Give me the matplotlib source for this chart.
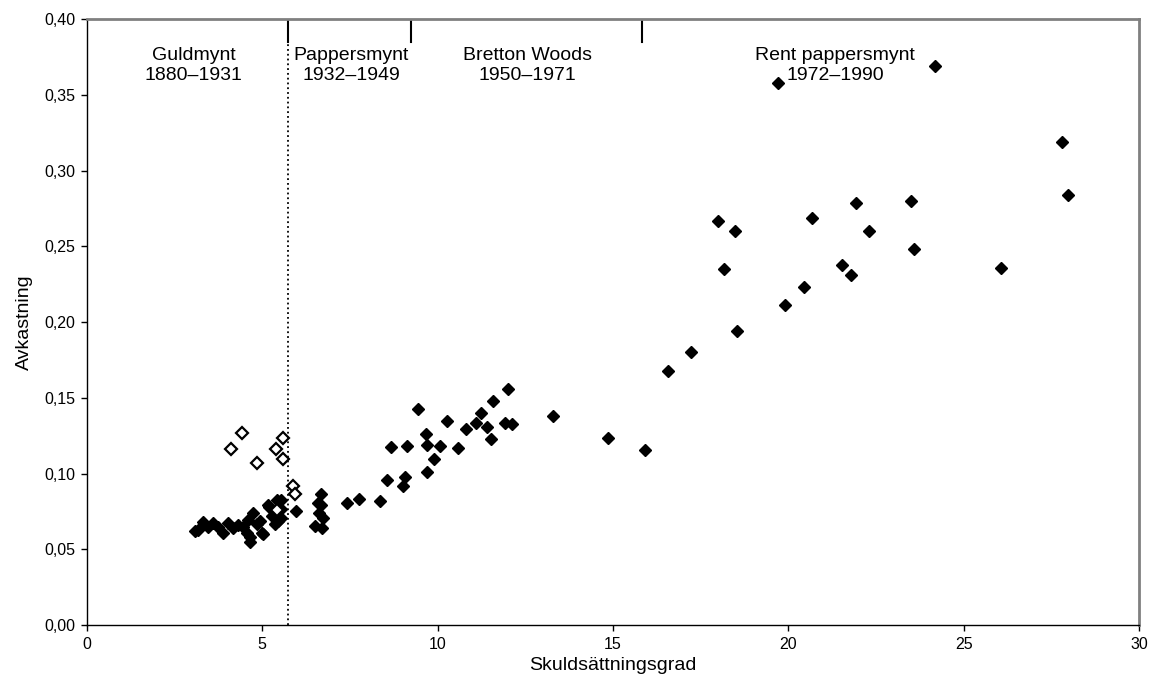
import matplotlib
matplotlib.use("Agg")
import matplotlib.pyplot as plt
from matplotlib.ticker import FuncFormatter, MultipleLocator

plt.rcParams['font.family'] = ['Liberation Sans', 'DejaVu Sans']

# filled diamonds: 1880-1990 observations
x_fill = [3.08, 3.17, 3.32, 3.46, 3.60, 3.75, 3.89, 4.03, 4.17, 4.31, 4.46, 4.55,
          4.60, 4.65, 4.65, 4.74, 4.84, 4.93, 5.00, 5.03, 5.17, 5.20, 5.27, 5.36,
          5.41, 5.45, 5.53, 5.53, 5.53,
          5.96, 6.50, 6.58, 6.63, 6.66, 6.67, 6.69, 6.74,
          7.42, 7.77, 8.37, 8.56, 9.02, 9.07, 8.68, 9.12, 9.43, 9.70, 9.89, 9.67,
          9.69, 10.07, 10.26, 10.58, 10.81, 11.09, 11.23, 11.41, 11.53, 11.59,
          11.91, 12.12, 12.01, 13.30,
          14.86, 15.92, 16.56, 17.23, 18.53, 19.92, 20.45, 26.08, 21.80, 21.53,
          18.16, 23.58, 22.31, 23.50, 21.94, 20.68, 18.47, 17.99, 27.97, 27.80,
          19.70, 24.18]
y_fill = [0.0623, 0.0630, 0.0682, 0.0649, 0.0675, 0.0650, 0.0605, 0.0671, 0.0640, 0.0660, 0.0650, 0.0610,
          0.0693, 0.0550, 0.0580, 0.0737, 0.0670, 0.0690, 0.0610, 0.0600, 0.0790, 0.0780, 0.0720, 0.0670,
          0.0825, 0.0690, 0.0825, 0.0766, 0.0706,
          0.0755, 0.0653, 0.0803, 0.0737, 0.0790, 0.0865, 0.0638, 0.0704,
          0.0805, 0.0830, 0.0818, 0.0957, 0.0920, 0.0975, 0.1173, 0.1181, 0.1426, 0.1010, 0.1096, 0.1260,
          0.1188, 0.1181, 0.1349, 0.1168, 0.1296, 0.1331, 0.1397, 0.1309, 0.1228, 0.1479,
          0.1331, 0.1325, 0.1558, 0.1382,
          0.1232, 0.1155, 0.1680, 0.1800, 0.1940, 0.2110, 0.2230, 0.2360, 0.2310, 0.2380,
          0.2350, 0.2480, 0.2600, 0.2800, 0.2790, 0.2690, 0.2600, 0.2670, 0.2840, 0.3190,
          0.3580, 0.3690]

# open diamonds
x_open = [4.11, 4.42, 4.84, 5.38, 5.60, 5.60, 5.88, 5.93, 5.42]
y_open = [0.1160, 0.1265, 0.1071, 0.1160, 0.1232, 0.1094, 0.0920, 0.0865, 0.0760]

# period boundaries and labels
bounds = [5.74, 9.24, 15.83]
period_x = [3.05, 7.53, 12.55, 21.33]
period_labels = ["Guldmynt\n1880\u20131931", "Pappersmynt\n1932\u20131949",
                 "Bretton Woods\n1950\u20131971", "Rent pappersmynt\n1972\u20131990"]

fig = plt.figure(figsize=(11.55, 6.93), dpi=100)
ax = fig.add_axes([0.0753, 0.0981, 0.9108, 0.8741])

ax.plot(x_fill, y_fill, linestyle='none', marker='D', markersize=6.5,
        markerfacecolor='black', markeredgecolor='black', markeredgewidth=1)
ax.plot(x_open, y_open, linestyle='none', marker='D', markersize=6,
        markerfacecolor='white', markeredgecolor='black', markeredgewidth=1.6)

ax.axvline(bounds[0], color='black', linestyle=':', linewidth=1.3)
for b in bounds:
    ax.plot([b, b], [0.3848, 0.40], color='black', linewidth=1.5)

for px, lab in zip(period_x, period_labels):
    ax.text(px, 0.3696, lab, ha='center', va='center', multialignment='center',
            fontsize=14, linespacing=1.2)

ax.set_xlim(0, 30)
ax.set_ylim(0, 0.40)
ax.xaxis.set_major_locator(MultipleLocator(5))
ax.yaxis.set_major_locator(MultipleLocator(0.05))
ax.yaxis.set_major_formatter(FuncFormatter(lambda v, p: ("%.2f" % v).replace('.', ',')))
ax.tick_params(direction='out', length=4.5, width=1, pad=4, labelsize=11.5, color='black')

for side in ['top', 'right']:
    ax.spines[side].set_color('#808080')
    ax.spines[side].set_linewidth(2)
for side in ['left', 'bottom']:
    ax.spines[side].set_color('black')
    ax.spines[side].set_linewidth(1)

ax.set_xlabel('Skuldsättningsgrad', fontsize=14, labelpad=4)
ax.set_ylabel('Avkastning', fontsize=14, labelpad=8)

fig.savefig('out.png', dpi=100)
